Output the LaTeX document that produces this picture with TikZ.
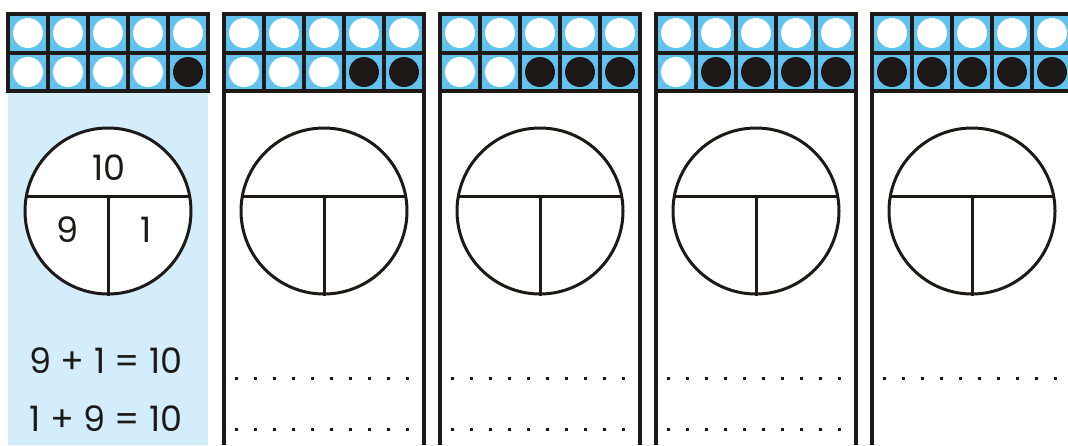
\documentclass[tikz,border=0pt]{standalone}
\usepackage{fontspec}
\setmainfont{Poppins}
\definecolor{frameblue}{RGB}{98,196,236}
\definecolor{paleblue}{RGB}{212,237,250}
\definecolor{ink}{RGB}{30,25,25}
\begin{document}
\begin{tikzpicture}[x=1pt,y=-1pt,
  gridline/.style={draw=ink,line width=4pt},
  counter/.style={circle,minimum size=30pt,inner sep=0pt,fill=white},
  redcounter/.style={circle,minimum size=30pt,inner sep=0pt,fill=ink},
  bond/.style={circle,draw=ink,line width=3pt,minimum size=166pt,inner sep=0pt,fill=white},
  bondline/.style={draw=ink,line width=3pt},
  side/.style={draw=ink,line width=4pt},
  num/.style={font=\fontsize{35}{40}\selectfont,text=ink,inner sep=0pt},
  dotmark/.style={fill=ink,minimum size=3pt,inner sep=0pt,rectangle}]
\useasboundingbox (0,0) rectangle (1068,445);
\fill[white] (0,0) rectangle (1068,445);
% panel 1 background
\fill[paleblue] (8,92) rectangle (208,445);
% panels
\foreach \p/\nb in {0/1,1/2,2/3,3/4,4/5} {
  \pgfmathsetmacro{\L}{8+216*\p}
  \fill[frameblue] (\L,14) rectangle ({\L+200},91);
  \foreach \k in {0,...,4} {
    \node[counter] (t\p-\k) at ({\L+20+40*\k},33) {};
    \pgfmathtruncatemacro{\filled}{(\k >= 5-\nb) ? 1 : 0}
    \ifnum\filled=1
      \node[redcounter] (b\p-\k) at ({\L+20+40*\k},72) {};
    \else
      \node[counter] (b\p-\k) at ({\L+20+40*\k},72) {};
    \fi
  }
  \foreach \k in {0,...,5} \draw[gridline] ({\L+40*\k},12) -- ({\L+40*\k},93);
  \draw[gridline] (\L-2,14) -- ({\L+202},14);
  \draw[gridline] (\L-2,52.5) -- ({\L+202},52.5);
  \draw[gridline] (\L-2,91) -- ({\L+202},91);
  % part-whole
  \node[bond] (c\p) at ({\L+100},211) {};
  \coordinate (hl\p) at ({\L+100-83},196);
  \coordinate (hr\p) at ({\L+100+83},196);
  \coordinate (vt\p) at ({\L+100},196);
  \coordinate (vb\p) at (c\p.south);
  \draw[bondline] (hl\p) -- (hr\p);
  \draw[bondline] (vt\p) -- (vb\p);
}
% sides of panels 2-5
\foreach \p in {1,2,3,4} {
  \pgfmathsetmacro{\L}{8+216*\p}
  \draw[side] (\L,91) -- (\L,445);
  \draw[side] ({\L+200},91) -- ({\L+200},445);
}
% labels panel 1
\node[num] (whole) at (109,168) {10};
\node[num] (partA) at (68,230) {9};
\node[num] (partB) at (146,230) {1};
\node[num] (eq1) at (106,361) {9 + 1 = 10};
\node[num] (eq2) at (106,419) {1 + 9 = 10};
% dotted writing lines
\foreach \p in {1,2,3,4} {
  \pgfmathsetmacro{\L}{8+216*\p}
  \foreach \k in {0,...,9} \node[dotmark] (d\p-\k) at ({\L+12+19*\k},378) {};
}
\foreach \p in {1,2,3} {
  \pgfmathsetmacro{\L}{8+216*\p}
  \foreach \k in {0,...,9} \node[dotmark] (e\p-\k) at ({\L+12+19*\k},429) {};
}
\end{tikzpicture}
\end{document}
